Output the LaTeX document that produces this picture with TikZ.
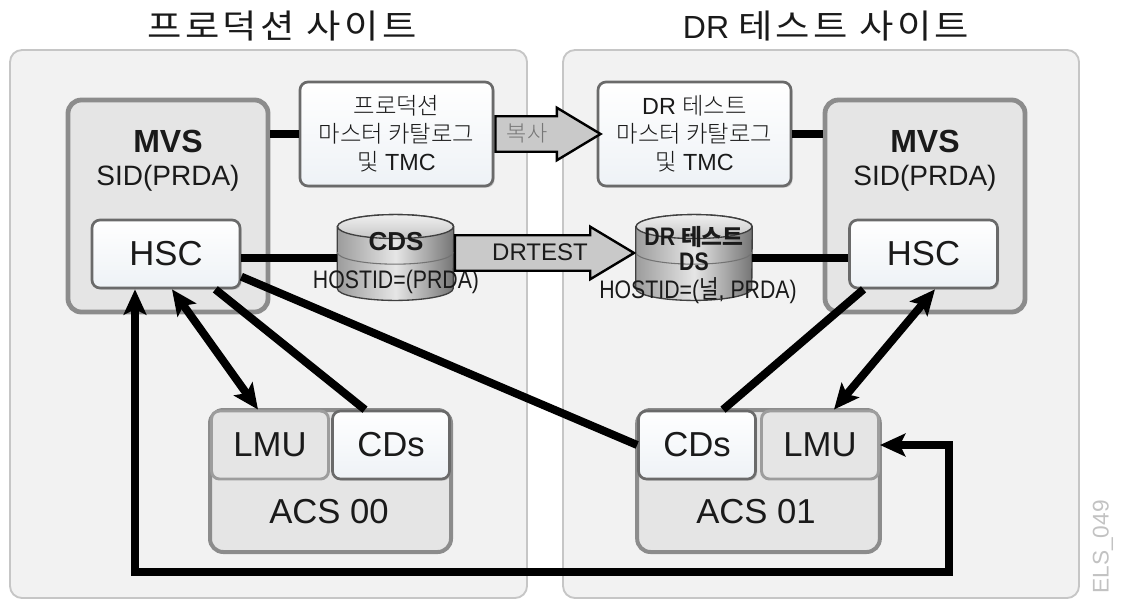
\documentclass[tikz,border=0pt]{standalone}
\usepackage{fontspec}
\setmainfont{Liberation Sans}
\newfontfamily\kr{Noto Sans CJK KR Light}
\newfontfamily\krbold{Noto Sans CJK KR Bold}
\newfontfamily\krtitle[LetterSpace=10,FakeStretch=1.12]{Noto Sans CJK KR}
\newfontfamily\krnarrow[FakeStretch=0.84]{Noto Sans CJK KR}
\newfontfamily\drsnarrow[FakeStretch=0.84]{Liberation Sans}
\usetikzlibrary{arrows.meta,positioning,shapes.arrows,shadows}
\definecolor{drsInk}{HTML}{1A1A1A}
\definecolor{drsPanel}{HTML}{F2F2F2}
\definecolor{drsPanelEdge}{HTML}{C6C6C6}
\definecolor{drsHost}{HTML}{E5E5E5}
\definecolor{drsHostEdge}{HTML}{8C8C8C}
\definecolor{drsCard}{HTML}{EEF2F6}
\definecolor{drsCardEdge}{HTML}{6A6A6A}
\definecolor{drsPipe}{HTML}{C9C9C9}
\definecolor{drsDisk}{HTML}{9C9C9C}
\definecolor{drsTag}{HTML}{C2C2C2}
\definecolor{drsMute}{HTML}{777777}
\newcommand{\drsfont}[2]{\fontsize{#1}{#2}\selectfont}
\tikzset{
  every picture/.style={font=\drsfont{17.5}{21}, text=drsInk},
  drs panel/.style={draw=drsPanelEdge, line width=1.4pt, rounded corners=9pt, fill=drsPanel},
  drs host/.style={draw=drsHostEdge, line width=3.6pt, rounded corners=10pt, fill=drsHost},
  drs slot/.style={draw=drsHostEdge!85, line width=2.2pt, rounded corners=6pt, fill=drsHost,
    minimum width=87.75pt, minimum height=51pt, font=\drsfont{26}{30}},
  drs card/.style={draw=drsCardEdge, line width=2pt, rounded corners=6pt,
    top color=white, bottom color=drsCard, align=center, inner sep=0pt,
    drop shadow={shadow xshift=1.2pt, shadow yshift=-1.2pt, fill=black!40}},
  drs pipe/.style={single arrow, draw=black, line width=1.8pt, fill=drsPipe,
    inner xsep=0pt, inner ysep=12.4pt, single arrow head extend=6.4pt,
    single arrow head indent=0pt, single arrow tip angle=62, anchor=tail},
  drs disk/.style={minimum width=87pt, minimum height=64pt, inner sep=0pt},
  drs disk body/.style={draw=black!75, line width=1pt, left color=drsDisk,
    right color=drsDisk!75!black, middle color=gray!20},
  drs disk cap/.style={draw=black!75, line width=1pt, top color=gray!12, bottom color=gray!45},
  drs disk band/.style={draw=black!55, line width=0.8pt},
  drs link/.style={draw=black, line width=6pt, >={Stealth[length=19pt,width=17pt,inset=4pt]}}
}
\begin{document}
\begin{tikzpicture}[x=0.75pt,y=-0.75pt]
  \useasboundingbox (0,0) rectangle (1123,600);
  % sites
  \node[drs panel, minimum width=387.75pt, minimum height=411pt] (siteP) at (268.5,324) {};
  \node[drs panel, minimum width=387pt, minimum height=411pt] (siteD) at (821,324) {};
  \node[anchor=base, font=\krtitle\drsfont{25}{29}] (siteProd) at (282,38) {프로덕션 사이트};
  \node[anchor=base, font=\drsfont{24}{28}] (siteTest) at (826,38) {DR {\krtitle\drsfont{25}{29}테스트 사이트}};

  % hosts
  \node[drs host, minimum width=150pt, minimum height=159pt] (mvsP) at (168,206) {};
  \node[drs host, minimum width=150pt, minimum height=159pt] (mvsD) at (925,206) {};
  \node[font=\bfseries\drsfont{24}{28}] (mvsPname) at (168,141.5) {MVS};
  \node[font=\bfseries\drsfont{24}{28}] (mvsDname) at (925,141.5) {MVS};
  \node[anchor=base, font=\drsfont{21}{25}] (mvsPsid) at (168,185) {SID(PRDA)};
  \node[anchor=base, font=\drsfont{21}{25}] (mvsDsid) at (925,185) {SID(PRDA)};
  \node[drs card, minimum width=111pt, minimum height=51pt, font=\drsfont{26}{30}] (hscP) at (166,254) {HSC};
  \node[drs card, minimum width=111pt, minimum height=51pt, font=\drsfont{26}{30}] (hscD) at (923.5,254) {HSC};

  % catalogs
  \node[drs card, minimum width=144.75pt, minimum height=78pt] (catP) at (396.5,134)
    {{\kr 프로덕션}\\{\kr 마스터 카탈로그}\\{\kr 및} TMC};
  \node[drs card, minimum width=144.75pt, minimum height=78pt] (catD) at (694.5,134)
    {DR {\kr 테스트}\\{\kr 마스터 카탈로그}\\{\kr 및} TMC};

  % control data sets
  \node[drs disk] (diskP) at (395.5,257.5) {};
  \node[drs disk] (diskD) at (694,257.5) {};
  \foreach \d in {diskP,diskD}{
    \draw[drs disk body] ([yshift=-9pt]\d.north west) -- ([yshift=9pt]\d.south west)
      arc[start angle=180, end angle=360, x radius=43.5pt, y radius=9pt]
      -- ([yshift=-9pt]\d.north east)
      arc[start angle=0, end angle=180, x radius=43.5pt, y radius=9pt] -- cycle;
    \draw[drs disk band] ([yshift=4pt]\d.west)
      arc[start angle=180, end angle=360, x radius=43.5pt, y radius=9pt];
    \draw[drs disk cap] ([yshift=-9pt]\d.north) ellipse[x radius=43.5pt, y radius=9pt];
  }
  \node[font=\bfseries\drsfont{19.5}{22}] (diskPname) at (396,241.5) {CDS};
  \node[anchor=base, font=\drsnarrow\drsfont{19}{22}] (diskPhost) at (396,288) {HOSTID=(PRDA)};
  \node[anchor=base, font=\drsnarrow\bfseries\drsfont{19}{22}] (diskDname) at (694,245) {DR {\krbold\drsfont{17}{22}테스트}};
  \node[anchor=base, font=\drsnarrow\bfseries\drsfont{19}{22}] (diskDds) at (694,270) {DS};
  \node[anchor=base, font=\drsnarrow\drsfont{19}{22}] (diskDhost) at (698,298.5) {HOSTID=({\krnarrow 널}, PRDA)};

  % libraries
  \node[drs host, line width=3pt, minimum width=180.75pt, minimum height=106.5pt] (acsP) at (330.5,481) {};
  \node[drs host, line width=3pt, minimum width=182pt, minimum height=106.5pt] (acsD) at (758.5,481) {};
  \node[drs slot] (lmuP) at (270,445) {LMU};
  \node[drs card, minimum width=87.75pt, minimum height=51pt, font=\drsfont{26}{30}] (cdsP) at (391,445) {CDs};
  \node[drs card, minimum width=87.75pt, minimum height=51pt, font=\drsfont{26}{30}] (cdsD) at (697,445) {CDs};
  \node[drs slot] (lmuD) at (820,445) {LMU};
  \node[font=\drsfont{26}{30}] (acsPname) at (329,511.5) {ACS 00};
  \node[font=\drsfont{26}{30}] (acsDname) at (756,511.5) {ACS 01};

  % links
  \draw[drs link] (catP.west -| mvsP.east) -- (catP.west);
  \draw[drs link] (catD.east) -- (catD.east -| mvsD.west);
  \draw[drs link] (diskP.west -| hscP.east) -- (diskP.west);
  \draw[drs link] (diskD.east) -- (diskD.east -| hscD.west);
  \draw[drs link,<->] ([xshift=4.5pt]hscP.south) -- ([xshift=-9pt]lmuP.north);
  \draw[drs link] ([xshift=37pt]hscP.south) -- ([xshift=-19.5pt]cdsP.north);
  \draw[drs link] ([yshift=-17pt]hscP.east) -- (cdsD.west);
  \draw[drs link,<->] ([xshift=8.6pt]hscD.south) -- ([xshift=10.5pt]lmuD.north);
  \draw[drs link] ([xshift=-45pt]hscD.south) -- ([xshift=19.5pt]cdsD.north);
  \coordinate (loopCorner) at (949,572);
  \draw[drs link,<->] ([xshift=-23.25pt]hscP.south) |- (loopCorner) |- (lmuD.east);

  % copy paths
  \node[drs pipe, minimum height=78.75pt] (copyPipe) at (catP.east) {};
  \node[font=\kr\drsfont{16.5}{20}, text=drsMute] (copyName) at (527,133) {복사};
  \node[drs pipe, minimum height=134.25pt] (testPipe) at ([yshift=3.4pt]diskP.east) {};
  \node[font=\drsfont{18}{21}] (testName) at (540,252.5) {DRTEST};

  \node[rotate=90, font=\drsfont{17}{20}, text=drsTag] (figTag) at (1103,547) {ELS\_049};
\end{tikzpicture}
\end{document}
